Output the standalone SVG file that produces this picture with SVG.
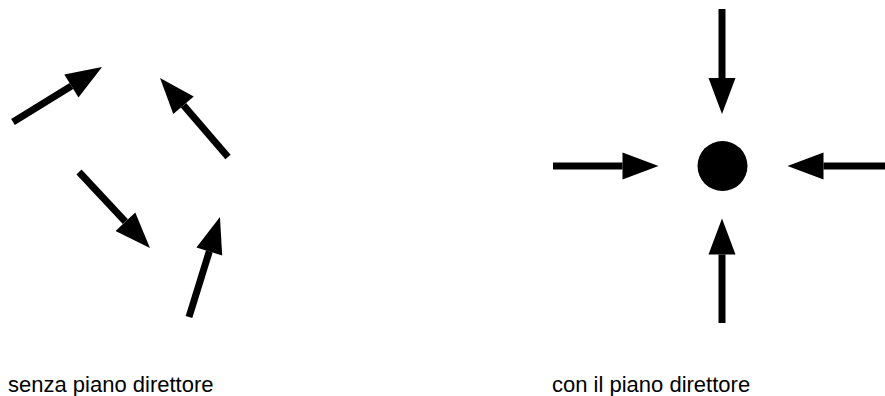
<svg xmlns="http://www.w3.org/2000/svg" width="885" height="396" viewBox="0 0 885 396">
<style>
.arr{stroke:#000;stroke-width:7;fill:none;marker-end:url(#head)}
.lbl{font-family:"Liberation Sans",Arial,sans-serif;font-size:22px;fill:#000}
</style>
<defs>
<marker id="head" markerUnits="userSpaceOnUse" markerWidth="37" markerHeight="27" refX="0" refY="13.5" orient="auto" overflow="visible">
<path d="M0,0 L36,13.5 L0,27 Z" fill="#000"/>
</marker>
</defs>
<rect width="885" height="396" fill="#fff"/>
<g id="connectors">
<line class="arr" x1="13" y1="122" x2="71.4" y2="85.9"/>
<line class="arr" x1="228" y1="157" x2="183.5" y2="105.3"/>
<line class="arr" x1="79" y1="172" x2="125.4" y2="221.7"/>
<line class="arr" x1="189" y1="317" x2="209.3" y2="251.4"/>
<line class="arr" x1="722" y1="9" x2="722" y2="78"/>
<line class="arr" x1="553" y1="166" x2="622.5" y2="166"/>
<line class="arr" x1="885" y1="166" x2="823.5" y2="166"/>
<line class="arr" x1="722" y1="323" x2="722" y2="254.5"/>
</g>
<g id="dot"><circle cx="722.5" cy="166" r="25" fill="#000"/></g>
<g id="label-left"><text class="lbl" x="8" y="391.5">senza piano direttore</text></g>
<g id="label-right"><text class="lbl" x="552" y="391.5">con il piano direttore</text></g>
</svg>
